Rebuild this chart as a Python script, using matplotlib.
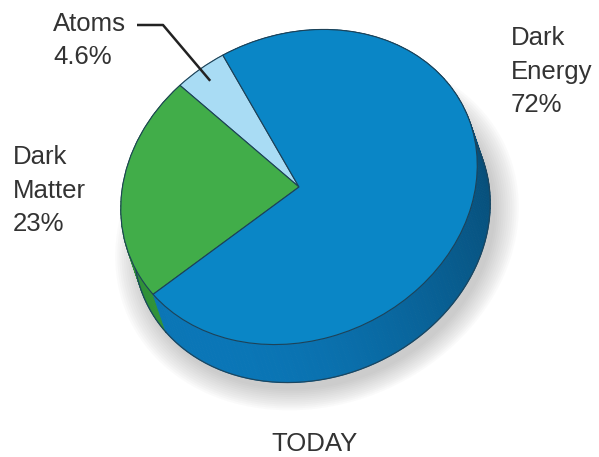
import numpy as np
import matplotlib
matplotlib.use("Agg")
import matplotlib.pyplot as plt
from matplotlib.patches import Wedge, Polygon, Ellipse
from matplotlib.transforms import Affine2D
import matplotlib.colors as mcolors

# ---- data ----
categories = ["Atoms", "Dark Matter", "Dark Energy"]
values = [4.6, 23, 72]
top_colors = ["#a9dcf4", "#41ad49", "#0a86c6"]
side_colors = ["#7fb9d6", "#2f8f37", "#0a72b0"]
title = "TODAY"

plt.rcParams['font.family'] = ['Liberation Sans', 'DejaVu Sans']

fig = plt.figure(figsize=(5.99, 4.57), dpi=100)
ax = fig.add_axes([0, 0, 1, 1])
ax.set_xlim(0, 599)
ax.set_ylim(457, 0)
ax.axis('off')

# geometry of the tilted disk (pixel space)
cx, cy = 299, 187
a, b = 183, 152
phi = np.deg2rad(24)
depth = np.array([13, 38])
M = np.array([[a * np.cos(phi), -b * np.sin(phi), cx],
              [-a * np.sin(phi), -b * np.cos(phi), cy],
              [0, 0, 1]])
disk = Affine2D(M)

start = 95.0
total = sum(values)
angles = [start]
for v in values:
    angles.append(angles[-1] + 360.0 * v / total)

# soft shadow
for i in range(12):
    s = 1.0 + 0.012 * i
    e = Ellipse((0, 0), 2 * s, 2 * s,
                facecolor='#707070', edgecolor='none', alpha=0.03,
                transform=disk + Affine2D().translate(depth[0] + 5, depth[1] + 7)
                + ax.transData, zorder=0)
    ax.add_patch(e)

# side bands with shading
L = np.array([-0.55, 0.83])
for i, cat in enumerate(categories):
    t1, t2 = angles[i], angles[i + 1]
    n = max(int((t2 - t1) / 1.5), 2)
    ts = np.linspace(t1, t2, n + 1)
    base = np.array(mcolors.to_rgb(side_colors[i]))
    for k in range(n):
        tt = np.deg2rad(np.linspace(ts[k], ts[k + 1], 3))
        pts = disk.transform(np.column_stack([np.cos(tt), np.sin(tt)]))
        tm = np.deg2rad(0.5 * (ts[k] + ts[k + 1]))
        p0 = disk.transform([[np.cos(tm), np.sin(tm)]])[0]
        nrm = p0 - np.array([cx, cy])
        nrm /= np.linalg.norm(nrm)
        f = 0.84 + 0.2 * np.dot(nrm, L)
        col = np.clip(base * f, 0, 1)
        poly = np.vstack([pts, (pts + depth)[::-1]])
        ax.add_patch(Polygon(poly, closed=True, facecolor=col, edgecolor=col,
                             lw=0.6, zorder=1))
    # bottom outline
    tt = np.deg2rad(np.linspace(t1, t2, 200))
    pts = disk.transform(np.column_stack([np.cos(tt), np.sin(tt)])) + depth
    ax.plot(pts[:, 0], pts[:, 1], color='#1b4660', lw=0.9, zorder=1.5)

# top faces
for i, cat in enumerate(categories):
    w = Wedge((0, 0), 1.0, angles[i], angles[i + 1],
              facecolor=top_colors[i], edgecolor='#1d4258', lw=0.8,
              transform=disk + ax.transData, zorder=2)
    ax.add_patch(w)

# labels
fs = 18.5
ls = 1.5
ax.text(511, 26, "Dark\nEnergy\n72%", fontsize=fs, color='#333333',
        va='top', ha='left', linespacing=ls, zorder=3)
ax.text(13, 145, "Dark\nMatter\n23%", fontsize=fs, color='#333333',
        va='top', ha='left', linespacing=ls, zorder=3)
ax.text(53, 12, "Atoms\n4.6%", fontsize=fs, color='#333333',
        va='top', ha='left', linespacing=ls, zorder=3)

# leader line for Atoms
tm = np.deg2rad(0.5 * (angles[0] + angles[1]))
tip = disk.transform([[0.9 * np.cos(tm), 0.9 * np.sin(tm)]])[0]
ax.plot([137, 163, tip[0]], [25, 25, tip[1]], color='#222222', lw=1.8, zorder=4,
        solid_capstyle='butt')

ax.text(315, 451, title, fontsize=fs, color='#333333', ha='center',
        va='baseline', zorder=3)

fig.savefig("out.png", dpi=100)
